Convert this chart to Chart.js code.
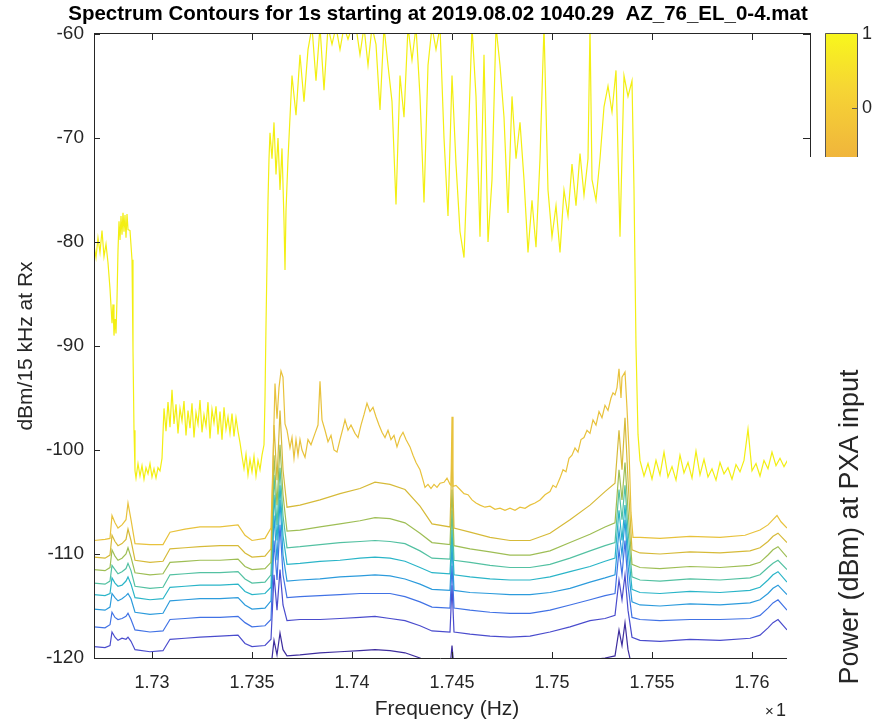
<!DOCTYPE html>
<html>
<head>
<meta charset="utf-8">
<script src="https://cdn.jsdelivr.net/npm/chart.js@4.4.0/dist/chart.umd.min.js"></script>
<style>
  html, body { margin: 0; padding: 0; background: #fff; }
</style>
</head>
<body>
<canvas id="canvas" width="876" height="721"></canvas>
<script>
// axis ticks
const xTicks = [1.73, 1.735, 1.74, 1.745, 1.75, 1.755, 1.76];
const xTickLabels = ['1.73', '1.735', '1.74', '1.745', '1.75', '1.755', '1.76'];
const yTicks = [-120, -110, -100, -90, -80, -70, -60];

// frequency grid (GHz) shared by the lower contours
const lowerFreqs = [1.7271, 1.72765, 1.7279, 1.728, 1.72815, 1.7283, 1.7285, 1.7287, 1.7288, 1.72895,
  1.72915, 1.7299, 1.73055, 1.7309, 1.73165, 1.7324, 1.7334, 1.7343, 1.73465, 1.735,
  1.73565, 1.73595, 1.7361, 1.73625, 1.7364, 1.73655, 1.73675, 1.7374, 1.7384, 1.7394,
  1.7404, 1.74115, 1.7419, 1.74265, 1.7434, 1.744, 1.7449, 1.745, 1.7451, 1.7459,
  1.7469, 1.7479, 1.7489, 1.7499, 1.7509, 1.7519, 1.75265, 1.75315, 1.75335, 1.7535,
  1.75365, 1.7538, 1.754, 1.7544, 1.7554, 1.7569, 1.7584, 1.7599, 1.7604, 1.7608,
  1.76105, 1.7613, 1.76175];

// lower contours, dBm
const contour3 = [-110.3,-110.4,-110.1,-108.2,-108.8,-109.2,-109.0,-108.6,-107.6,-108.7,
  -110.6,-110.8,-110.7,-109.5,-109.4,-109.3,-109.2,-109.2,-109.9,-110.3,
  -110.2,-109.5,-97.6,-102.9,-96.2,-101.9,-105.5,-105.3,-104.8,-104.2,
  -103.7,-103.1,-103.3,-103.8,-105.4,-107.1,-107.4,-100.5,-107.5,-107.9,
  -108.4,-108.7,-108.7,-108.0,-106.7,-105.3,-104.0,-103.2,-98.1,-101.9,
  -96.9,-102.9,-109.6,-109.9,-110.0,-109.8,-109.9,-109.7,-109.4,-108.8,
  -108.3,-108.0,-108.9];
const contour4 = [-111.5,-111.6,-111.3,-109.6,-110.2,-110.6,-110.4,-110.0,-109.4,-110.3,
  -111.8,-112.0,-111.9,-110.8,-110.7,-110.6,-110.6,-110.5,-111.2,-111.5,
  -111.4,-110.8,-100.5,-105.3,-99.5,-104.3,-107.8,-107.7,-107.4,-107.1,
  -106.8,-106.5,-106.6,-107.0,-108.0,-108.9,-109.1,-103.8,-109.2,-109.5,
  -109.8,-110.1,-110.1,-109.7,-108.9,-108.1,-107.4,-107.0,-101.9,-104.8,
  -101.2,-105.8,-111.0,-111.3,-111.4,-111.2,-111.3,-111.1,-110.8,-110.1,
  -109.6,-109.3,-110.3];
const contour5 = [-112.8,-112.9,-112.6,-111.1,-111.5,-111.9,-111.7,-111.4,-110.9,-111.6,
  -113.1,-113.3,-113.2,-112.0,-111.9,-111.8,-111.8,-111.7,-112.4,-112.8,
  -112.7,-112.0,-102.4,-107.2,-101.7,-106.3,-109.4,-109.3,-109.1,-108.9,
  -108.8,-108.7,-108.8,-109.0,-109.7,-110.4,-110.5,-105.8,-110.6,-110.8,
  -111.1,-111.3,-111.3,-111.0,-110.4,-109.7,-109.2,-108.9,-103.8,-106.7,
  -103.4,-107.7,-112.2,-112.5,-112.6,-112.4,-112.5,-112.3,-112.0,-111.3,
  -110.9,-110.6,-111.5];
const contour6 = [-113.9,-114.0,-113.8,-112.3,-112.8,-113.1,-113.0,-112.6,-112.2,-112.9,
  -114.2,-114.4,-114.3,-113.2,-113.1,-113.0,-113.0,-112.9,-113.6,-113.9,
  -113.8,-113.2,-104.3,-108.7,-103.4,-108.2,-111.0,-110.9,-110.7,-110.6,
  -110.4,-110.3,-110.4,-110.7,-111.3,-111.8,-111.9,-107.7,-112.0,-112.2,
  -112.4,-112.5,-112.5,-112.2,-111.7,-111.2,-110.7,-110.4,-105.8,-108.7,
  -105.3,-109.4,-113.4,-113.7,-113.8,-113.6,-113.7,-113.5,-113.2,-112.5,
  -112.0,-111.7,-112.7];
const contour7 = [-115.3,-115.4,-115.1,-113.8,-114.2,-114.5,-114.3,-114.0,-113.8,-114.3,
  -115.6,-115.8,-115.7,-114.5,-114.4,-114.3,-114.3,-114.2,-114.9,-115.3,
  -115.2,-114.5,-106.3,-110.6,-104.8,-110.1,-112.6,-112.5,-112.4,-112.2,
  -112.1,-112.0,-112.1,-112.4,-112.9,-113.4,-113.5,-109.1,-113.5,-113.7,
  -113.8,-113.9,-113.9,-113.7,-113.3,-112.7,-112.3,-112.0,-107.7,-110.1,
  -106.7,-111.1,-114.6,-114.9,-115.0,-114.8,-114.9,-114.7,-114.4,-113.8,
  -113.3,-113.0,-113.9];
const contour8 = [-117.0,-117.1,-116.8,-115.6,-116.1,-116.3,-116.2,-116.0,-115.7,-116.3,
  -117.3,-117.5,-117.4,-116.3,-116.2,-116.1,-116.1,-116.0,-116.6,-117.0,
  -116.9,-116.3,-108.7,-112.5,-107.2,-112.0,-114.2,-114.1,-114.0,-113.9,
  -113.8,-113.8,-113.8,-114.1,-114.6,-115.1,-115.2,-111.1,-115.2,-115.4,
  -115.6,-115.7,-115.7,-115.4,-114.9,-114.4,-114.0,-113.8,-109.6,-112.0,
  -108.7,-113.0,-116.1,-116.3,-116.4,-116.3,-116.3,-116.2,-115.9,-115.2,
  -114.7,-114.4,-115.4];
const contour9 = [-118.9,-119.0,-118.8,-117.5,-118.0,-118.3,-118.1,-118.2,-118.0,-118.4,
  -119.2,-119.4,-119.3,-118.2,-118.1,-118.0,-117.9,-117.8,-118.6,-118.9,
  -118.8,-118.2,-112.0,-115.4,-111.5,-114.9,-116.4,-116.3,-116.3,-116.2,
  -116.1,-116.0,-116.2,-116.4,-116.9,-117.4,-117.5,-113.0,-117.5,-117.7,
  -117.9,-118.0,-117.9,-117.5,-117.0,-116.4,-116.2,-115.9,-112.5,-114.4,
  -112.0,-115.4,-118.0,-118.3,-118.4,-118.2,-118.3,-118.1,-117.8,-117.1,
  -116.6,-116.3,-117.3];
const contour10 = [-121.6,-121.7,-121.5,-120.5,-120.9,-121.2,-121.1,-121.0,-120.8,-121.2,
  -121.9,-122.0,-121.9,-120.9,-120.8,-120.7,-120.7,-120.6,-121.3,-121.6,
  -121.5,-120.9,-118.3,-119.7,-117.6,-119.2,-119.8,-119.7,-119.5,-119.4,
  -119.3,-119.2,-119.3,-119.5,-120.0,-120.7,-121.0,-118.8,-121.0,-121.2,
  -121.4,-121.5,-121.5,-121.2,-120.7,-120.2,-120.0,-119.8,-117.3,-118.8,
  -116.6,-119.2,-120.9,-121.2,-121.3,-121.1,-121.2,-121.0,-120.7,-120.8,
  -120.5,-120.3,-120.8];

// second contour (orange), [GHz, dBm]
const contour2 = [[1.7271,-108.7],[1.72765,-108.6],[1.7279,-108.5],[1.728,-106.3],[1.72815,-107.0],[1.7283,-107.5],
  [1.7285,-107.2],[1.7287,-106.7],[1.7288,-105.1],[1.72895,-106.7],[1.72915,-109.0],[1.7299,-109.1],[1.73055,-109.1],
  [1.7309,-107.9],[1.73165,-107.6],[1.7324,-107.4],[1.7334,-107.4],[1.7343,-107.2],[1.73465,-108.2],[1.735,-108.7],
  [1.73565,-108.5],[1.73595,-107.5],[1.73605,-101.0],[1.73615,-93.6],[1.73625,-97.0],[1.73635,-94.0],[1.73645,-92.4],
  [1.73655,-93.0],[1.73665,-97.5],[1.73675,-98.1],[1.7369,-99.8],[1.737,-98.8],[1.7371,-100.8],[1.7372,-99.0],
  [1.7373,-100.5],[1.7374,-99.0],[1.7375,-100.0],[1.73765,-100.7],[1.7378,-99.0],[1.73795,-99.5],[1.73815,-98.4],
  [1.7383,-97.6],[1.7384,-93.4],[1.7385,-97.1],[1.73865,-98.1],[1.7388,-99.2],[1.73895,-98.6],[1.7391,-100.0],
  [1.73925,-100.2],[1.7394,-99.0],[1.73955,-97.9],[1.73965,-97.1],[1.7398,-98.1],[1.73995,-97.6],[1.74015,-98.4],
  [1.7403,-98.8],[1.74045,-97.6],[1.7406,-96.6],[1.74075,-95.5],[1.7409,-96.3],[1.74105,-95.9],[1.7412,-96.8],
  [1.74135,-97.6],[1.7415,-98.3],[1.74165,-98.8],[1.7418,-98.1],[1.74195,-99.0],[1.7421,-98.6],[1.74225,-99.7],
  [1.7424,-98.8],[1.74255,-98.3],[1.7427,-99.0],[1.7429,-99.7],[1.74305,-100.5],[1.7432,-101.2],[1.7434,-101.9],
  [1.74355,-102.9],[1.74365,-103.6],[1.7438,-103.3],[1.74395,-103.7],[1.7441,-103.3],[1.74425,-103.6],[1.7444,-103.2],
  [1.7446,-103.1],[1.74475,-102.7],[1.7449,-103.3],[1.74495,-103.4],[1.745,-96.8],[1.74505,-103.5],[1.7452,-103.4],
  [1.7454,-103.8],[1.7456,-104.2],[1.7458,-104.3],[1.746,-104.8],[1.7462,-105.1],[1.7464,-105.3],[1.74665,-105.5],
  [1.7469,-105.4],[1.74715,-105.7],[1.7474,-105.6],[1.74765,-105.8],[1.7479,-105.6],[1.74815,-105.8],[1.7484,-105.5],
  [1.74865,-105.6],[1.7489,-105.3],[1.74915,-105.1],[1.7494,-104.8],[1.74965,-104.3],[1.7499,-104.0],[1.75005,-103.4],
  [1.7502,-103.6],[1.7504,-102.7],[1.75055,-101.9],[1.7507,-102.1],[1.75085,-100.8],[1.751,-100.5],[1.75115,-99.8],
  [1.7513,-100.2],[1.75145,-99.0],[1.7516,-98.8],[1.75175,-98.1],[1.7519,-98.4],[1.75205,-97.1],[1.7522,-97.6],
  [1.75235,-96.3],[1.7525,-96.9],[1.75265,-95.7],[1.7528,-96.2],[1.75295,-95.0],[1.75305,-94.5],[1.75315,-94.7],
  [1.75325,-94.0],[1.75335,-92.2],[1.75345,-95.0],[1.7535,-93.0],[1.75365,-92.5],[1.75375,-96.0],[1.75385,-100.0],
  [1.75395,-106.0],[1.75405,-108.4],[1.7544,-108.4],[1.7554,-108.5],[1.7569,-108.3],[1.7584,-108.4],[1.75965,-108.2],
  [1.7604,-107.7],[1.7608,-107.2],[1.76105,-106.7],[1.76125,-106.3],[1.76145,-106.9],[1.76175,-107.5]];

// top contour (yellow), [GHz, dBm]
const contour1 = [[1.7271,-80.3],[1.7272,-81.5],[1.7273,-79.6],[1.7274,-81.0],[1.7275,-78.9],[1.7276,-81.4],[1.7277,-80.2],
  [1.7278,-82.0],[1.7279,-84.5],[1.728,-87.8],[1.72805,-86.0],[1.7281,-89.0],[1.72815,-87.4],[1.7282,-88.8],[1.72825,-85.5],
  [1.7283,-80.8],[1.72835,-78.0],[1.7284,-79.8],[1.72845,-77.5],[1.7285,-79.3],[1.72855,-77.2],[1.7286,-79.0],[1.72865,-77.4],
  [1.7287,-79.6],[1.72875,-77.3],[1.7288,-78.8],[1.7289,-78.9],[1.729,-81.7],[1.72905,-90.4],[1.7291,-98.1],[1.72915,-102.0],
  [1.7292,-102.7],[1.7293,-101.3],[1.7294,-102.5],[1.7295,-101.5],[1.7296,-102.8],[1.7297,-101.7],[1.7298,-102.3],[1.7299,-101.3],
  [1.73,-102.6],[1.7301,-101.8],[1.7302,-102.7],[1.7303,-101.7],[1.7304,-102.0],[1.7305,-100.8],
  [1.7306,-96.0],[1.7307,-98.2],[1.7308,-95.4],[1.7309,-97.8],[1.731,-94.2],[1.7311,-97.5],[1.7312,-95.6],[1.7313,-98.4],
  [1.7314,-96.0],[1.7315,-97.2],[1.7316,-95.3],[1.7317,-98.6],[1.7318,-96.2],[1.7319,-97.9],[1.732,-95.5],[1.7321,-98.8],
  [1.7322,-96.4],[1.7323,-97.5],[1.7324,-95.2],[1.7325,-98.3],[1.7326,-96.6],[1.7327,-97.7],[1.7328,-95.4],[1.7329,-98.9],
  [1.733,-96.1],[1.7331,-97.4],[1.7332,-95.8],[1.7333,-98.5],[1.7334,-96.3],[1.7335,-99.0],[1.7336,-95.9],[1.7337,-98.0],
  [1.7338,-96.8],[1.7339,-98.4],[1.734,-96.5],[1.7341,-98.7],[1.7342,-96.9],[1.7343,-98.2],[1.7344,-99.3],
  [1.7345,-100.6],[1.7346,-101.8],[1.7347,-100.4],[1.7348,-102.4],[1.7349,-100.9],[1.735,-102.1],[1.7351,-100.6],
  [1.7352,-102.5],[1.7353,-101.0],[1.7354,-101.9],[1.7355,-100.5],[1.7356,-99.5],[1.73565,-95.0],[1.7357,-88.0],
  [1.73575,-82.0],[1.7358,-76.0],[1.73585,-72.0],[1.7359,-69.5],[1.736,-72.0],[1.7361,-68.5],[1.7362,-73.5],[1.7363,-70.0],
  [1.7364,-75.0],[1.7365,-71.0],[1.7366,-78.0],[1.73665,-82.7],[1.7367,-77.0],[1.7368,-72.0],[1.7369,-68.0],[1.737,-64.0],
  [1.7372,-67.8],[1.7374,-62.0],[1.7376,-66.5],[1.7378,-61.5],[1.738,-59.3],[1.7382,-64.5],[1.7384,-59.3],[1.7386,-65.4],
  [1.7388,-59.3],[1.739,-61.0],[1.7392,-59.3],[1.7394,-61.5],[1.7396,-59.3],[1.7398,-60.5],[1.74,-59.3],[1.7402,-59.3],
  [1.7404,-62.0],[1.7406,-59.3],[1.7408,-63.0],[1.741,-59.3],[1.7412,-61.0],[1.7414,-67.3],[1.7416,-59.3],[1.7418,-63.0],
  [1.742,-66.5],[1.7422,-76.4],[1.7424,-64.0],[1.7426,-68.0],[1.7428,-59.3],[1.743,-62.5],[1.7432,-59.3],[1.7434,-66.0],
  [1.7436,-76.2],[1.7438,-63.0],[1.744,-59.3],[1.7442,-61.5],[1.7444,-59.3],[1.7446,-70.0],[1.7448,-77.5],[1.745,-64.0],
  [1.7452,-72.5],[1.7454,-79.0],[1.7456,-81.5],[1.7458,-71.0],[1.746,-59.3],[1.7462,-66.0],[1.7464,-79.5],[1.7466,-62.0],
  [1.7468,-80.0],[1.747,-74.0],[1.7472,-59.3],[1.7474,-63.0],[1.7476,-68.0],[1.7478,-77.2],[1.748,-66.0],[1.7482,-72.0],
  [1.7484,-68.5],[1.7486,-74.0],[1.7488,-81.0],[1.749,-76.0],[1.7492,-80.5],[1.7494,-72.0],[1.7496,-59.3],[1.7498,-75.0],
  [1.75,-79.5],[1.7502,-76.5],[1.7504,-81.0],[1.7506,-75.0],[1.7508,-77.5],[1.751,-72.5],[1.7512,-76.5],[1.7514,-71.5],
  [1.7516,-75.5],[1.7518,-72.0],[1.7519,-59.3],[1.752,-74.0],[1.7522,-76.0],[1.7524,-72.0],[1.7526,-67.0],[1.7528,-65.0],
  [1.753,-67.5],[1.7532,-63.5],[1.7534,-79.5],[1.7536,-64.0],[1.7538,-66.0],[1.754,-64.5],[1.7541,-75.0],[1.7542,-90.0],
  [1.7543,-98.5],[1.7544,-101.0],[1.7546,-102.5],[1.7548,-101.3],[1.755,-102.8],[1.7552,-101.0],[1.7554,-102.4],
  [1.7556,-100.2],[1.7558,-102.6],[1.756,-101.6],[1.7562,-102.9],[1.7564,-100.5],[1.7566,-102.2],[1.7568,-101.2],
  [1.757,-102.7],[1.7572,-100.1],[1.7574,-102.4],[1.7576,-100.9],[1.7578,-102.6],[1.758,-101.8],[1.7582,-102.9],
  [1.7584,-101.2],[1.7586,-102.3],[1.7588,-101.7],[1.759,-102.8],[1.7592,-101.4],[1.7594,-102.1],[1.7596,-101.0],
  [1.7598,-98.0],[1.76,-102.0],[1.7602,-101.3],[1.7604,-102.5],[1.7606,-101.0],[1.7608,-101.8],[1.761,-100.2],
  [1.7612,-101.5],[1.7614,-100.8],[1.7616,-101.6],[1.7618,-100.9]];

const lineColors = ['#f3ef12', '#e8c23c', '#d6ba38', '#9ebe55', '#53c1a2', '#2ab5c8', '#2c9bdc', '#4172e5', '#4a4ccd', '#3e2d9e'];

const FONT = "'Liberation Sans', Arial, Helvetica, sans-serif";
const INK = '#262626';

const fromPairs = pairs => pairs.map(p => ({ x: p[0], y: p[1] }));
const fromGrid = vals => lowerFreqs.map((f, i) => ({ x: f, y: vals[i] }));

const traces = [
  fromPairs(contour1), fromPairs(contour2),
  fromGrid(contour3), fromGrid(contour4), fromGrid(contour5), fromGrid(contour6),
  fromGrid(contour7), fromGrid(contour8), fromGrid(contour9), fromGrid(contour10)
];

const datasets = traces.map((d, i) => ({
  data: d,
  borderColor: lineColors[i],
  borderWidth: 1.2,
  pointRadius: 0,
  tension: 0,
  fill: false
}));

// frame, labels and colour bar in MATLAB style
const decorations = {
  id: 'decorations',
  beforeDraw(chart) {
    const c = chart.ctx;
    c.save();
    c.fillStyle = '#fff';
    c.fillRect(0, 0, chart.width, chart.height);
    c.restore();
  },
  afterDraw(chart) {
    const c = chart.ctx;
    const a = chart.chartArea;
    const xs = chart.scales.x;
    const ys = chart.scales.y;
    const boxRight = 810;
    const boxBottom = 157;

    c.save();
    c.strokeStyle = INK;
    c.lineWidth = 1;
    c.beginPath();
    c.moveTo(a.left + 0.5, a.top - 1); c.lineTo(a.left + 0.5, a.bottom + 1);
    c.moveTo(a.left, a.bottom + 0.5); c.lineTo(a.right, a.bottom + 0.5);
    c.moveTo(a.left, a.top - 0.5); c.lineTo(boxRight + 1, a.top - 0.5);
    c.moveTo(boxRight + 0.5, a.top - 1); c.lineTo(boxRight + 0.5, boxBottom);
    xTicks.forEach(v => {
      const px = Math.round(xs.getPixelForValue(v)) + 0.5;
      c.moveTo(px, a.bottom); c.lineTo(px, a.bottom - 6);
      c.moveTo(px, a.top); c.lineTo(px, a.top + 6);
    });
    yTicks.forEach(v => {
      const py = Math.round(ys.getPixelForValue(v)) + 0.5;
      c.moveTo(a.left, py); c.lineTo(a.left + 6, py);
      if (py < boxBottom - 4) { c.moveTo(boxRight, py); c.lineTo(boxRight - 7, py); }
    });
    c.stroke();

    // title
    c.fillStyle = '#000';
    c.font = 'bold 20.5px ' + FONT;
    c.textAlign = 'center';
    c.textBaseline = 'middle';
    c.fillText('Spectrum Contours for 1s starting at 2019.08.02 1040.29  AZ_76_EL_0-4.mat', 438, 14);

    // axis titles
    c.fillStyle = INK;
    c.font = '21px ' + FONT;
    c.fillText('Frequency (Hz)', 447, 709);
    c.save();
    c.translate(26, 346);
    c.rotate(-Math.PI / 2);
    c.fillText('dBm/15 kHz at Rx', 0, 0);
    c.restore();

    // exponent, cut off at the edge of the axes
    c.textAlign = 'left';
    c.font = '15px ' + FONT;
    c.fillText('\u00d7', 765, 712);
    c.font = '18px ' + FONT;
    c.fillText('1', 776, 711);

    // colour bar
    const cbL = 825, cbR = 857, cbT = 33, cbB = 157;
    const g = c.createLinearGradient(0, cbT, 0, cbB);
    g.addColorStop(0, '#f8f71c');
    g.addColorStop(0.45, '#f6d534');
    g.addColorStop(1, '#f0b53c');
    c.fillStyle = g;
    c.fillRect(cbL, cbT, cbR - cbL, cbB - cbT);
    c.strokeStyle = '#555';
    c.beginPath();
    c.moveTo(cbL + 0.5, cbB); c.lineTo(cbL + 0.5, cbT + 0.5);
    c.lineTo(cbR + 0.5, cbT + 0.5); c.lineTo(cbR + 0.5, cbB);
    c.moveTo(cbR, 108.5); c.lineTo(cbR - 5, 108.5);
    c.stroke();
    c.fillStyle = INK;
    c.font = '18px ' + FONT;
    c.textBaseline = 'middle';
    c.fillText('1', 862, 34);
    c.fillText('0', 862, 108);

    // colour bar label
    c.save();
    c.translate(851, 527);
    c.rotate(-Math.PI / 2);
    c.textAlign = 'center';
    c.font = '27px ' + FONT;
    c.fillText('Power (dBm) at PXA input', 0, 0);
    c.restore();

    c.restore();
  }
};

new Chart(document.getElementById('canvas'), {
  type: 'line',
  data: { datasets: datasets },
  options: {
    responsive: false,
    animation: false,
    devicePixelRatio: 1,
    layout: { padding: { left: 0, top: 34, right: 89, bottom: 0 } },
    plugins: {
      legend: { display: false },
      tooltip: { enabled: false },
      title: { display: false }
    },
    scales: {
      x: {
        type: 'linear',
        min: 1.7271,
        max: 1.76175,
        grid: { display: false, drawTicks: false },
        border: { display: false },
        afterBuildTicks: s => { s.ticks = xTicks.map(v => ({ value: v })); },
        afterFit: s => { s.height = 63; },
        ticks: {
          padding: 14,
          autoSkip: false,
          maxRotation: 0,
          color: INK,
          font: { family: FONT, size: 18 },
          callback: (v, i) => xTickLabels[i]
        }
      },
      y: {
        type: 'linear',
        min: -120,
        max: -60,
        grid: { display: false, drawTicks: false },
        border: { display: false },
        afterBuildTicks: s => { s.ticks = yTicks.map(v => ({ value: v })); },
        afterFit: s => { s.width = 94; },
        ticks: {
          padding: 10,
          color: INK,
          font: { family: FONT, size: 19 },
          callback: v => String(v)
        }
      }
    }
  },
  plugins: [decorations]
});
</script>
</body>
</html>
